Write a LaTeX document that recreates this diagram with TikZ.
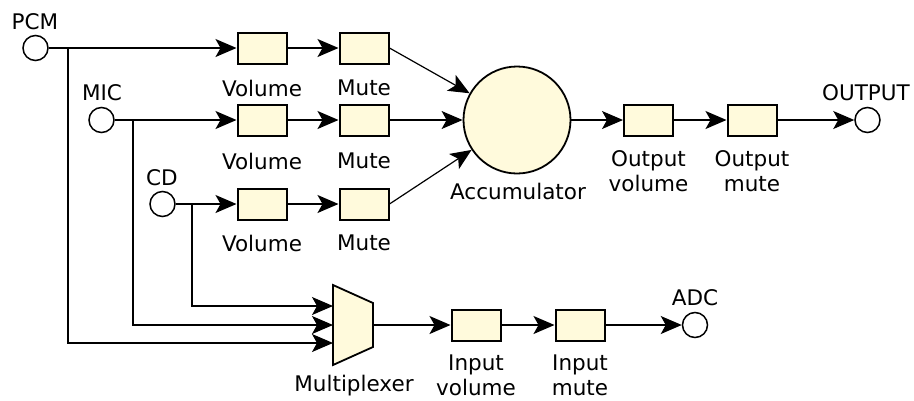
\documentclass[tikz,border=0pt]{standalone}
\usepackage{fontspec}
\setmainfont{DejaVu Sans}
\usetikzlibrary{arrows.meta}
\definecolor{boxfill}{RGB}{255,250,220}
\begin{document}
\begin{tikzpicture}[x=1pt,y=-1pt,
  every node/.style={font=\fontsize{21.5}{25}\selectfont},
  blk/.style={draw=black, line width=2pt, fill=boxfill, minimum width=49pt, minimum height=31pt, inner sep=0pt},
  port/.style={circle, draw=black, line width=1.5pt, fill=white, minimum size=25pt, inner sep=0pt},
  lbl/.style={inner sep=0pt, align=center},
  conn/.style={line width=1.2pt, draw=black},
  arr/.style={conn, -{Stealth[length=21pt,width=18pt,inset=5pt]}}
]
\useasboundingbox[fill=white] (0,0) rectangle (914,400);

% ports
\node[port] (pcm) at (35.5,48) {};
\node[lbl] (pcml) at (35,22) {PCM};
\node[port] (mic) at (101.5,120) {};
\node[lbl] (micl) at (102,93) {MIC};
\node[port] (cd) at (162.5,204) {};
\node[lbl] (cdl) at (162,178) {CD};
\node[port] (out) at (867.5,120) {};
\node[lbl] (outl) at (866,93) {OUTPUT};
\node[port] (adc) at (695,325) {};
\node[lbl] (adcl) at (695,298) {ADC};

% volume / mute blocks
\node[blk] (vol1) at (262,48) {};
\node[blk] (vol2) at (262,120) {};
\node[blk] (vol3) at (262,204) {};
\node[blk] (mute1) at (364,48) {};
\node[blk] (mute2) at (364,120) {};
\node[blk] (mute3) at (364,204) {};
\node[lbl] (vol1l) at (262,88) {Volume};
\node[lbl] (vol2l) at (262,161) {Volume};
\node[lbl] (vol3l) at (262,243) {Volume};
\node[lbl] (mute1l) at (364,88) {Mute};
\node[lbl] (mute2l) at (364,161) {Mute};
\node[lbl] (mute3l) at (364,243) {Mute};

% accumulator
\node[circle, draw=black, line width=1.8pt, fill=boxfill, minimum size=107pt, inner sep=0pt] (acc) at (517,120) {};
\node[lbl] (accl) at (518,191) {Accumulator};

% output chain
\node[blk] (ovol) at (648.5,120) {};
\node[lbl] (ovoll) at (648.5,171) {Output\\volume};
\node[blk] (omute) at (752,120) {};
\node[lbl] (omutel) at (752,171) {Output\\mute};

% multiplexer
\node[inner sep=0pt, minimum width=40pt, minimum height=80pt] (mux) at (353,325) {};
\filldraw[fill=boxfill, draw=black, line width=1.8pt, line join=miter]
  (333,285) -- (373,303) -- (373,347) -- (333,365) -- cycle;
\coordinate (muxin1) at (333,306);
\coordinate (muxin2) at (333,325);
\coordinate (muxin3) at (333,343);
\coordinate (muxout) at (373,325);
\node[lbl] (muxl) at (354,386) {Multiplexer};

% input chain
\node[blk] (ivol) at (476,325) {};
\node[lbl] (ivoll) at (476,375) {Input\\volume};
\node[blk] (imute) at (580,325) {};
\node[lbl] (imutel) at (580,375) {Input\\mute};

% branch points
\coordinate (bpcm) at (68,48);
\coordinate (bmic) at (133,120);
\coordinate (bcd) at (192,204);

% connectors
\draw[arr] (pcm) -- (vol1);
\draw[arr] (mic) -- (vol2);
\draw[arr] (cd) -- (vol3);
\draw[arr] (vol1) -- (mute1);
\draw[arr] (vol2) -- (mute2);
\draw[arr] (vol3) -- (mute3);
\draw[arr] (mute1.east) -- (acc);
\draw[arr] (mute2) -- (acc);
\draw[arr] (mute3.east) -- (acc);
\draw[arr] (acc) -- (ovol);
\draw[arr] (ovol) -- (omute);
\draw[arr] (omute) -- (out);

\draw[arr] (bcd) |- (muxin1);
\draw[arr] (bmic) |- (muxin2);
\draw[arr] (bpcm) |- (muxin3);

\draw[arr] (muxout) -- (ivol);
\draw[arr] (ivol) -- (imute);
\draw[arr] (imute) -- (adc);
\end{tikzpicture}
\end{document}
